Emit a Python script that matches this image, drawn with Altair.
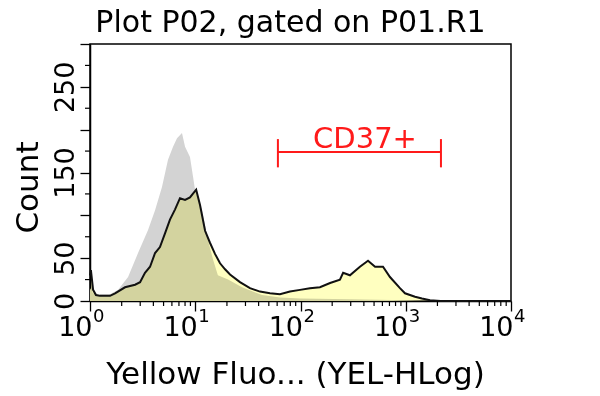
import altair as alt
import pandas as pd

FONT = "DejaVu Sans, sans-serif"

# Sample (yellow fill + black outline)
sample_x = [1.0, 1.02, 1.07, 1.14, 1.24, 1.55, 1.73, 2.15, 2.68, 2.99, 3.33, 3.72, 4.15, 4.62,
            5.16, 5.75, 6.43, 7.16, 8.0, 8.91, 10.2, 11.1, 12.4, 13.8, 15.4, 17.2, 19.2, 21.4,
            26.6, 33.1, 41.2, 51.3, 63.8, 79.4, 98.9, 123, 153, 191, 237, 254, 295, 367, 438,
            511, 608, 708, 881, 984, 1225, 1426, 1700, 2140, 10000]
sample_y = [30, 36, 13, 7, 6, 6, 9, 16, 19, 22, 33, 40, 56, 63,
            79, 95, 107, 120, 118, 121, 130, 112, 82, 68, 55, 44, 37, 31,
            22, 15, 11, 9, 8, 11, 13, 15, 16, 21, 25, 33, 30, 40, 47,
            40, 40, 28, 15, 9, 5, 3, 1, 0, 0]

# Control (gray fill)
control_x = [1.0, 1.07, 1.24, 1.55, 1.85, 2.3, 2.86, 3.56, 4.15, 4.83, 5.51, 6.15, 6.71, 7.48,
             8.0, 8.91, 9.53, 9.95, 11.6, 13.2, 14.8, 16.4, 20.5, 27.8, 43.1, 63.8, 100, 300,
             1000, 2000, 10000]
control_y = [15, 9, 8, 8, 13, 28, 56, 83, 106, 133, 165, 180, 190, 196,
             180, 168, 145, 130, 106, 71, 48, 30, 25, 16, 7, 4, 3, 2,
             1, 0, 0]

# Gate
gate_name = ["CD37+"]
gate_lo = [61]
gate_hi = [2160]
gate_level = [174]
gate_cap_lo = [156]
gate_cap_hi = [189]
gate_label_x = [410]
gate_label_y = [179]

# Axis ticks
x_major = [1, 10, 100, 1000, 10000]
x_exponents = ["0", "1", "2", "3", "4"]
x_minor = [m * d for d in [1, 10, 100, 1000] for m in range(2, 10)]
y_major = list(range(0, 301, 50))
y_minor = list(range(25, 300, 50))
y_labeled = [0, 50, 150, 250]

W, H = 421, 257

sample = pd.DataFrame({"x": sample_x, "y": sample_y})
control = pd.DataFrame({"x": control_x, "y": control_y})
gate = pd.DataFrame({"name": gate_name, "lo": gate_lo, "hi": gate_hi, "lvl": gate_level,
                     "lx": gate_label_x, "ly": gate_label_y})
caps = pd.DataFrame({"x": gate_lo + gate_hi, "c1": gate_cap_lo * 2, "c2": gate_cap_hi * 2})
exps = pd.DataFrame({"x": x_major, "e": x_exponents})
xmin_df = pd.DataFrame({"x": x_minor})
ymin_df = pd.DataFrame({"y": y_minor})

xscale = alt.Scale(type="log", domain=[1, 10000], nice=False)
yscale = alt.Scale(domain=[0, 300], nice=False)

lab_list = ",".join(str(v) for v in y_labeled)
xaxis = alt.Axis(
    values=x_major,
    labelExpr="'10'",
    tickSize=10,
    labelAlign="right", labelOffset=2, labelPadding=3,
    labelFontSize=27, labelFont=FONT, labelColor="black", labelFlush=False,
    labelOverlap=False,
    title="Yellow Fluo... (YEL-HLog)", titleFontSize=31, titleFont=FONT,
    titleFontWeight="normal", titleColor="black",
    titleX=205, titleY=82, titleBaseline="alphabetic", titleAlign="center",
    domainColor="black", tickColor="black", domainWidth=1.5, tickWidth=1.3, grid=False,
)
yaxis = alt.Axis(
    values=y_major,
    labelExpr=f"indexof([{lab_list}], datum.value) >= 0 ? datum.value : ''",
    tickSize=10,
    labelAngle=-90, labelAlign="center", labelBaseline="bottom", labelPadding=1,
    labelFontSize=27, labelFont=FONT, labelColor="black", labelOverlap=False,
    labelFlush=False,
    title="Count", titleFontSize=31, titleFont=FONT, titleFontWeight="normal",
    titleColor="black", titleX=-53, titleY=143, titleBaseline="alphabetic",
    titleAlign="center", titleAngle=-90,
    domainColor="black", tickColor="black", domainWidth=1.5, tickWidth=1.3, grid=False,
)

base_x = alt.X("x:Q", scale=xscale, axis=xaxis)
base_y = alt.Y("y:Q", scale=yscale, axis=yaxis)

gray = alt.Chart(control).mark_area(color="#d3d3d3", interpolate="linear").encode(x=base_x, y=base_y)
yellow = alt.Chart(sample).mark_area(color="#ffffc0", blend="multiply", interpolate="linear").encode(
    x="x:Q", y="y:Q")
outline = alt.Chart(sample).mark_line(color="#111111", strokeWidth=2, interpolate="linear").encode(
    x="x:Q", y="y:Q")

xminor_ticks = alt.Chart(xmin_df).mark_rule(color="black", strokeWidth=1.2).encode(
    x="x:Q", y=alt.value(H), y2=alt.value(H + 5))
yminor_ticks = alt.Chart(ymin_df).mark_rule(color="black", strokeWidth=1.2).encode(
    y="y:Q", x=alt.value(0), x2=alt.value(-5))

gate_line = alt.Chart(gate).mark_rule(color="#ff1a1a", strokeWidth=2).encode(
    x="lo:Q", x2="hi:Q", y="lvl:Q")
gate_caps = alt.Chart(caps).mark_rule(color="#ff1a1a", strokeWidth=2).encode(
    x="x:Q", y="c1:Q", y2="c2:Q")
gate_text = alt.Chart(gate).mark_text(color="#ff1a1a", fontSize=29, font=FONT,
                                      baseline="alphabetic", align="center").encode(
    x="lx:Q", y="ly:Q", text="name:N")

exp_text = alt.Chart(exps).mark_text(fontSize=18, font=FONT, color="black", align="left",
                                     baseline="top", dx=3).encode(
    x="x:Q", y=alt.value(H + 7), text="e:N")

chart = alt.layer(gray, yellow, outline, xminor_ticks, yminor_ticks,
                  gate_line, gate_caps, gate_text, exp_text).properties(
    width=W, height=H,
    title=alt.TitleParams("Plot P02, gated on P01.R1", fontSize=30, font=FONT,
                          fontWeight="normal", color="black", anchor="middle", offset=5, dx=-10),
    autosize=alt.AutoSizeParams(type="none"),
    padding={"left": 82, "top": 36, "right": 80, "bottom": 92},
).configure(background="white").configure_view(stroke="black", strokeWidth=1.5)

chart.save("out.html", embed_options={"renderer": "svg", "actions": False})
